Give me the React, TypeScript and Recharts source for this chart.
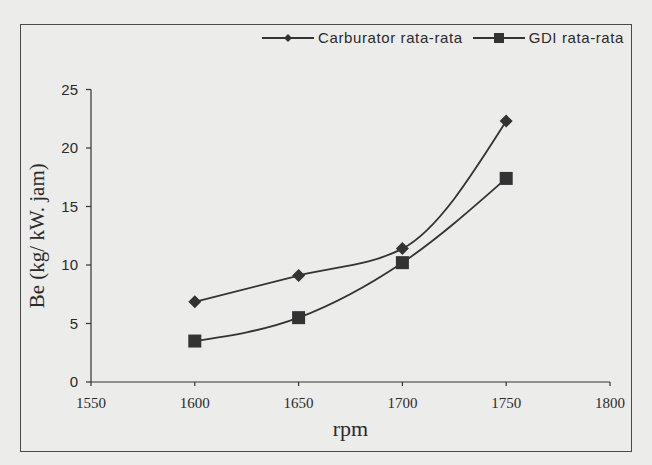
import React from 'react';
import { LineChart, Line, XAxis, YAxis, Legend } from 'recharts';

// rpm values and average specific fuel consumption
const rpm = [1600, 1650, 1700, 1750];
const carburator = [6.85, 9.1, 11.4, 22.3];
const gdi = [3.5, 5.5, 10.2, 17.4];
const xTicks = [1550, 1600, 1650, 1700, 1750, 1800];
const yTicks = [0, 5, 10, 15, 20, 25];

const data = rpm.map((r, i) => ({ rpm: r, carb: carburator[i], gdi: gdi[i] }));

const INK = '#333333';
const BG = '#ececea';

const Diamond = (props: any) => {
  const { cx, cy } = props;
  if (cx == null || cy == null) return null;
  const r = 6.5;
  return <polygon points={`${cx},${cy - r} ${cx + r},${cy} ${cx},${cy + r} ${cx - r},${cy}`} fill={INK} />;
};

const Square = (props: any) => {
  const { cx, cy } = props;
  if (cx == null || cy == null) return null;
  const s = 13;
  return <rect x={cx - s / 2} y={cy - s / 2} width={s} height={s} fill={INK} />;
};

const LegendBox = () => {
  const item = (label: string, kind: 'diamond' | 'square') => (
    <span style={{ display: 'inline-flex', alignItems: 'center', marginLeft: 10 }}>
      <svg width={52} height={12}>
        <line x1={0} y1={6} x2={52} y2={6} stroke={INK} strokeWidth={2} />
        {kind === 'diamond' ? (
          <polygon points="26,2 30,6 26,10 22,6" fill={INK} />
        ) : (
          <rect x={21} y={1} width={10} height={10} fill={INK} />
        )}
      </svg>
      <span style={{ marginLeft: 4 }}>{label}</span>
    </span>
  );
  return (
    <div
      style={{
        fontFamily: '"Liberation Sans Narrow", "Liberation Sans", sans-serif',
        fontSize: 15,
        color: '#2a2a2a',
        letterSpacing: 0.6,
        whiteSpace: 'nowrap',
        textAlign: 'right',
      }}
    >
      {item('Carburator rata-rata', 'diamond')}
      {item('GDI rata-rata', 'square')}
    </div>
  );
};

export default function App() {
  return (
    <div style={{ position: 'absolute', left: 0, top: 0, width: 652, height: 465, background: BG }}>
      <div
        style={{
          position: 'absolute',
          left: 20,
          top: 24,
          width: 610,
          height: 426,
          border: '1.5px solid #4a4a4a',
        }}
      />
      <LineChart
        width={652}
        height={465}
        data={data}
        margin={{ top: 72, right: 42, left: 31, bottom: 53 }}
        style={{ position: 'absolute', left: 0, top: 0 }}
      >
        <XAxis
          dataKey="rpm"
          type="number"
          domain={[1550, 1800]}
          ticks={xTicks}
          interval={0}
          stroke={INK}
          strokeWidth={1.2}
          tickSize={4}
          tickMargin={11}
          tick={{ fill: '#2a2a2a', fontSize: 15, fontFamily: '"Liberation Serif", serif' }}
          height={30}
          label={{
            value: 'rpm',
            position: 'insideBottom',
            offset: -24,
            fill: '#2a2a2a',
            fontSize: 22,
            fontFamily: '"Liberation Serif", serif',
          }}
        />
        <YAxis
          type="number"
          domain={[0, 25]}
          ticks={yTicks}
          interval={0}
          width={60}
          stroke={INK}
          strokeWidth={1.2}
          tickSize={5}
          tickMargin={8}
          tick={{ fill: '#2a2a2a', fontSize: 15, fontFamily: '"Liberation Sans", sans-serif' }}
          label={{
            value: 'Be (kg/ kW. jam)',
            angle: -90,
            position: 'insideLeft',
            offset: 0,
            dx: 6,
            style: { textAnchor: 'middle' },
            fill: '#2a2a2a',
            fontSize: 21,
            fontFamily: '"Liberation Serif", serif',
          }}
        />
        <Legend
          verticalAlign="top"
          align="right"
          content={<LegendBox />}
          wrapperStyle={{ top: 29, right: 28, left: 'auto', width: 'auto' }}
        />
        <Line
          type="monotone"
          dataKey="carb"
          name="Carburator rata-rata"
          stroke={INK}
          strokeWidth={1.8}
          dot={<Diamond />}
          activeDot={false}
          isAnimationActive={false}
        />
        <Line
          type="monotone"
          dataKey="gdi"
          name="GDI rata-rata"
          stroke={INK}
          strokeWidth={1.8}
          dot={<Square />}
          activeDot={false}
          isAnimationActive={false}
        />
      </LineChart>
    </div>
  );
}
